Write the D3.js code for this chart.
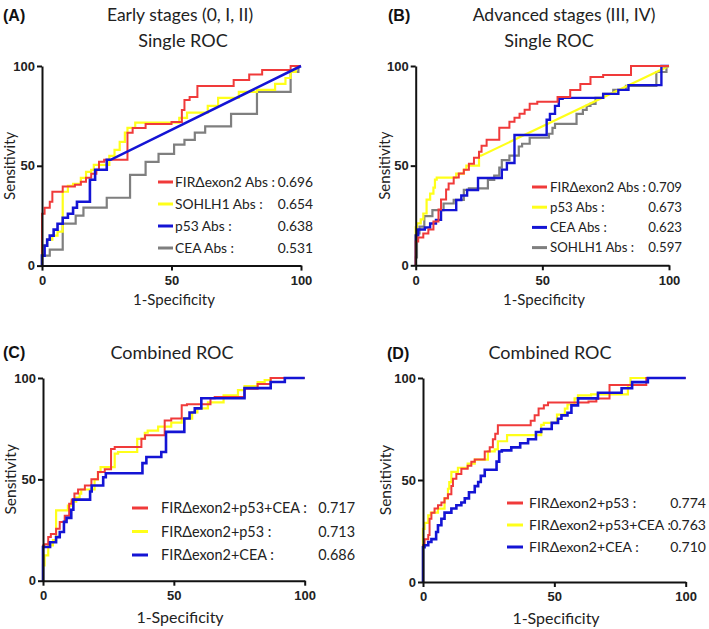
<!DOCTYPE html>
<html>
<head>
<meta charset="utf-8">
<script src="https://cdn.jsdelivr.net/npm/d3@7"></script>
<style>
  html, body { margin: 0; padding: 0; background: #fff; }
  svg { display: block; }
</style>
</head>
<body>
<svg id="chart" width="709" height="629"></svg>
<script>
// ---------------- DATA (x = 1-Specificity %, y = Sensitivity %) ----------------
// Step points: each [x, y] means "rise to y, then run to x".
const tickValues = [0, 50, 100];

// Panel A: Early stages, single ROC
const earlyFIR = [[0,0],[0,11],[1,26],[3,29],[4,32],[8,37],[12.7,39.6],[15,40.5],[17,42],[19,44],[21,46],[22,48],[24,52],[33,53],[35,66.6],[40,69],[50,71],[54,72],[55,78],[57,83],[60,84.5],[62,90],[74,90],[80,93],[85,95.8],[96,98],[100,100]];
const earlySOHLH1 = [[0,0],[0,5],[2,10],[4,13],[6,15],[8,17],[10,37],[12,40],[15,41],[17,44],[19,47],[20,48],[26,50.5],[28,55],[30,58],[32,62],[33,66.6],[36,69],[38,71.6],[53,71.6],[56,74],[64,76.6],[68,80],[76,84],[83,87],[90,88],[94,91],[96,94],[98,97],[100,100]];
const earlyP53 = [[0,0],[1,5],[2,10],[3,13],[4.5,15],[6,18],[8,21],[10,24],[12,26],[13.5,29],[18.5,32],[20.5,43],[25,48],[26.5,53],[100,100]];
const earlyCEA = [[0,0],[3,5],[8,8],[13,21],[16,25],[25,29],[34,34],[40,45.5],[45,52],[51,56],[55,60.6],[59,63],[63,66.6],[73,69.8],[83,76],[96,87],[99,97],[100,100]];
const earlyLabels = ["FIRΔexon2 Abs :", "SOHLH1 Abs :", "p53 Abs :", "CEA Abs :"];
const earlyAUC = ["0.696", "0.654", "0.638", "0.531"];

// Panel B: Advanced stages, single ROC
const advFIR = [[0,0],[1,12],[3,14],[5,16],[7,18],[9,22],[10,28],[12,33],[13,38],[15,41],[17,44],[19,46],[21,48],[23,51],[25,54],[26,57],[28,60],[33,63],[37,69],[39,72],[41,74],[43,76],[45,78],[48,81],[56,82],[61,84.5],[65,88],[69,91],[74,94.5],[85,95.5],[100,100]];
const advP53 = [[0,0],[0.5,19],[2,21],[3,23],[4.3,26],[5.7,33],[7,36],[7.6,39],[8.3,43],[16,44],[19,46],[20,48],[25,50],[25.8,55],[100,100]];
const advCEA = [[0,0],[0,11],[1,15],[3.6,18],[5.7,19],[8,21],[10,22.8],[16,27.7],[18,32.8],[20.3,35],[24.6,37.8],[34,43.8],[36,48],[39,51.3],[51.7,65.4],[53,73],[55,76],[56.5,80],[58,83.6],[74,84],[80,86],[84,88],[97,90.4],[100,100]];
const advSOHLH1 = [[0,0],[0.5,4],[1.5,16],[3.4,19.4],[6.6,24.7],[11,27.7],[15,31],[19,32.8],[21,37.8],[28.5,38.6],[31,42.8],[33,45],[34,49],[37,52.8],[40.7,55],[42,59.6],[45,61],[52.6,64],[54,66],[55,69],[63.5,71],[66,76],[67.5,78],[69,80],[71,81],[74,84],[78,86],[83,88],[95,90],[96,97],[99,97],[100,100]];
const advLabels = ["FIRΔexon2 Abs :", "p53 Abs :", "CEA Abs :", "SOHLH1 Abs :"];
const advAUC = ["0.709", "0.673", "0.623", "0.597"];

// Panel C: Early stages, combined ROC
const earlyComboFIRp53CEA = [[0,0],[0.5,17.4],[2,18],[3,21.5],[5,23],[6.4,25.6],[8.3,29],[10,32],[11,38],[12,40],[13.4,43],[16,45],[18.5,47],[21,50],[23.6,53.6],[26,55],[27.4,65],[37.6,66],[39,70],[46.5,71.7],[49,79],[53,80],[55,86.5],[64,87],[65.6,90],[77,90.6],[82,94.7],[87,97],[100,100]];
const earlyComboFIRp53 = [[0,0],[0.6,7.6],[2,12.5],[3.8,17.4],[5,20],[9.5,34.7],[10.8,37],[12.7,39],[14,41],[14.6,43],[19.7,45],[21,50],[22,53.6],[27.4,56],[28.7,62.7],[36,63.5],[38.9,70],[40,73],[44,74],[49,76],[53,78],[57,80],[59,83],[63,85],[69,88],[74.5,91.4],[77,94],[82,96],[84.7,98],[87,99],[100,100]];
const earlyComboFIRCEA = [[0,0],[2.7,16.6],[5,19],[6.4,21.5],[8,24],[9,29],[10.8,31],[11.6,35],[18,40],[18.6,44],[23,47],[24,51],[38,53],[39.5,58],[45.2,61],[47,63.5],[54,73.4],[56,80],[58,83],[60.5,85],[77,90],[87,95],[92.4,98],[100,100]];
const earlyComboLabels = ["FIRΔexon2+p53+CEA :", "FIRΔexon2+p53 :", "FIRΔexon2+CEA :"];
const earlyComboAUC = ["0.717", "0.713", "0.686"];

// Panel D: Advanced stages, combined ROC
const advComboFIRp53 = [[0,0],[0.6,18],[2,21],[2.5,23],[3.2,31],[4.4,34],[5.7,36],[7,37.6],[8.2,39],[9.5,41],[10.8,43],[11.4,47],[12.7,50.6],[14.6,53],[17,55.5],[18.4,57],[19.7,59],[23.5,60],[25.4,64],[26.6,66],[27.5,70],[28.5,72.7],[41,76.8],[42.5,79],[44,81.7],[46,85],[47.6,86.6],[63,88],[66,88.5],[71,90],[85,96.6],[100,100]];
const advComboFIRp53CEA = [[0,0],[0.6,26],[2,29],[3,32.7],[5.7,34],[8.2,36],[9.5,41],[10,45.7],[10.8,49],[13.3,54],[17,56],[19.7,58],[24.7,60],[27.3,64],[28.5,65],[32,69],[45,72],[46,77],[51,78],[54,82],[55,85],[57.7,87],[59,90],[64,91.5],[78,92],[79,96.4],[84,100],[100,100]];
const advComboFIRCEA = [[0,0],[0.6,17],[2,18],[3.2,19.6],[5,21],[5.7,24.5],[7,27.8],[8.2,31],[10.8,34],[12.7,36],[14.6,37.6],[15.9,39],[17.5,41],[19.7,44],[21,47],[22,49],[23.5,52],[28,55],[29,59],[30,64],[33.6,64.5],[37,66],[40,68],[43,70],[45,73.5],[49,75],[51.4,78],[52.7,80],[55,81.7],[56.5,83],[59,86.6],[66.6,90],[75.6,92.8],[79.6,95],[85.6,98],[100,100]];
const advComboLabels = ["FIRΔexon2+p53 :", "FIRΔexon2+p53+CEA :", "FIRΔexon2+CEA :"];
const advComboAUC = ["0.774", "0.763", "0.710"];

// ---------------- STYLE ----------------
const RED = "#f03a3a", YELLOW = "#ffff1a", BLUE = "#1414d4", GRAY = "#7f7f7f";
const FONT = "Lato, 'Open Sans', sans-serif";
const TICKFONT = "'Liberation Sans', Arial, sans-serif";

const panels = [
  { letter: "(A)", letterPos: [3, 21],
    titles: [{ text: "Early stages (0, I, II)", x: 180, y: 21, size: 17.5 }, { text: "Single ROC", x: 183, y: 47, size: 18 }],
    xr: [42, 301], yr: [265.6, 66],
    xlab: { x: 174, y: 305, size: 15 }, ylab: { x: 15, size: 15 },
    series: [
      { values: earlyFIR, color: RED, w: 2 },
      { values: earlySOHLH1, color: YELLOW, w: 2.2 },
      { values: earlyP53, color: BLUE, w: 2.6, linearTail: true },
      { values: earlyCEA, color: GRAY, w: 2.2 }],
    labels: earlyLabels, aucs: earlyAUC, drawOrder: [3, 1, 0, 2],
    legend: { lx: [158, 173], tx: 175, vx: 313, y0: 182, dy: 22, size: 15, fit: 0, fitW: 100 } },
  { letter: "(B)", letterPos: [388, 21],
    titles: [{ text: "Advanced stages (III, IV)", x: 564, y: 21, size: 17.5 }, { text: "Single ROC", x: 549, y: 47, size: 18 }],
    xr: [415.7, 669], yr: [265.3, 66],
    xlab: { x: 544, y: 305, size: 15 }, ylab: { x: 390, size: 15 },
    series: [
      { values: advFIR, color: RED, w: 2 },
      { values: advP53, color: YELLOW, w: 2.2, linearTail: true },
      { values: advCEA, color: BLUE, w: 2.4 },
      { values: advSOHLH1, color: GRAY, w: 2.2 }],
    labels: advLabels, aucs: advAUC, drawOrder: [3, 1, 2, 0],
    legend: { lx: [532, 547], tx: 550, vx: 682, y0: 187, dy: 20.2, size: 15, fit: 0, fitW: 96 } },
  { letter: "(C)", letterPos: [3, 358],
    titles: [{ text: "Combined ROC", x: 172, y: 359, size: 18 }],
    xr: [43, 304.7], yr: [580.7, 378],
    xlab: { x: 180, y: 623, size: 16 }, ylab: { x: 16, size: 15.5 },
    series: [
      { values: earlyComboFIRp53CEA, color: RED, w: 2 },
      { values: earlyComboFIRp53, color: YELLOW, w: 2.2 },
      { values: earlyComboFIRCEA, color: BLUE, w: 2.6 }],
    labels: earlyComboLabels, aucs: earlyComboAUC, drawOrder: [1, 0, 2],
    legend: { lx: [132, 148], tx: 161, vx: 355, y0: 508, dy: 23.5, size: 16.5, fit: 0, fitW: 146 } },
  { letter: "(D)", letterPos: [387, 359],
    titles: [{ text: "Combined ROC", x: 550, y: 359, size: 18 }],
    xr: [423, 685.7], yr: [582, 378],
    xlab: { x: 556, y: 624, size: 16 }, ylab: { x: 391, size: 15.5 },
    series: [
      { values: advComboFIRp53, color: RED, w: 2 },
      { values: advComboFIRp53CEA, color: YELLOW, w: 2.2 },
      { values: advComboFIRCEA, color: BLUE, w: 2.6 }],
    labels: advComboLabels, aucs: advComboAUC, drawOrder: [1, 0, 2],
    legend: { lx: [507, 523], tx: 529, vx: 706, y0: 503, dy: 22, size: 16, fit: 1, fitW: 142 } }
];

// expand step points into explicit vertices
function expand(pts, linearTail) {
  const out = [pts[0]];
  for (let i = 1; i < pts.length; i++) {
    const isTail = linearTail && i === pts.length - 1;
    if (!isTail) out.push([pts[i - 1][0], pts[i][1]]);
    out.push(pts[i]);
  }
  return out;
}

const svg = d3.select("#chart");
svg.append("rect").attr("width", 709).attr("height", 629).attr("fill", "#fff");

panels.forEach(p => {
  const g = svg.append("g");
  const x = d3.scaleLinear().domain([0, 100]).range(p.xr);
  const y = d3.scaleLinear().domain([0, 100]).range(p.yr);

  // titles
  g.append("text").attr("x", p.letterPos[0]).attr("y", p.letterPos[1])
    .attr("font-family", TICKFONT).attr("font-weight", "bold").attr("font-size", 16)
    .attr("fill", "#111").text(p.letter);
  p.titles.forEach(t => {
    g.append("text").attr("x", t.x).attr("y", t.y).attr("text-anchor", "middle")
      .attr("font-family", FONT).attr("font-size", t.size).attr("fill", "#222").text(t.text);
  });

  // curves
  const line = d3.line().x(d => x(d[0])).y(d => y(d[1]));
  p.drawOrder.forEach(i => {
    const s = p.series[i];
    g.append("path").attr("d", line(expand(s.values, s.linearTail)))
      .attr("fill", "none").attr("stroke", s.color).attr("stroke-width", s.w)
      .attr("stroke-linejoin", "miter");
  });

  // axes
  const xa = g.append("g").attr("transform", `translate(0,${p.yr[0]})`)
    .call(d3.axisBottom(x).tickValues(tickValues).tickSize(5).tickSizeOuter(0).tickPadding(5));
  const ya = g.append("g").attr("transform", `translate(${p.xr[0]},0)`)
    .call(d3.axisLeft(y).tickValues(tickValues).tickSize(5).tickSizeOuter(0).tickPadding(2));
  [xa, ya].forEach(a => {
    a.select(".domain").attr("stroke", "#111").attr("stroke-width", 2);
    a.selectAll(".tick line").attr("stroke", "#111").attr("stroke-width", 2);
    a.selectAll(".tick text").attr("font-family", TICKFONT).attr("font-weight", "bold")
      .attr("font-size", 13).attr("fill", "#222");
  });

  // axis titles
  g.append("text").attr("x", p.xlab.x).attr("y", p.xlab.y).attr("text-anchor", "middle")
    .attr("font-family", FONT).attr("font-size", p.xlab.size).attr("fill", "#222").text("1-Specificity");
  const ymid = (p.yr[0] + p.yr[1]) / 2;
  g.append("text").attr("transform", `translate(${p.ylab.x},${ymid}) rotate(-90)`)
    .attr("text-anchor", "middle").attr("font-family", FONT).attr("font-size", p.ylab.size)
    .attr("fill", "#222").text("Sensitivity");

  // legend: fit font size so the reference label width is matched
  const L = p.legend;
  const probe = g.append("text").attr("font-family", FONT).attr("font-size", L.size).text(p.labels[L.fit]);
  const measured = probe.node().getComputedTextLength();
  probe.remove();
  const fs = measured > 0 ? Math.min(L.size, L.size * L.fitW / measured) : L.size;
  p.labels.forEach((lab, i) => {
    const cy = L.y0 + i * L.dy;
    g.append("line").attr("x1", L.lx[0]).attr("x2", L.lx[1]).attr("y1", cy).attr("y2", cy)
      .attr("stroke", p.series[i].color).attr("stroke-width", 3);
    g.append("text").attr("x", L.tx).attr("y", cy).attr("dy", "0.35em")
      .attr("font-family", FONT).attr("font-size", fs).attr("fill", "#222").text(lab);
    g.append("text").attr("x", L.vx).attr("y", cy).attr("dy", "0.35em").attr("text-anchor", "end")
      .attr("font-family", FONT).attr("font-size", fs).attr("fill", "#222").text(p.aucs[i]);
  });
});
</script>
</body>
</html>
